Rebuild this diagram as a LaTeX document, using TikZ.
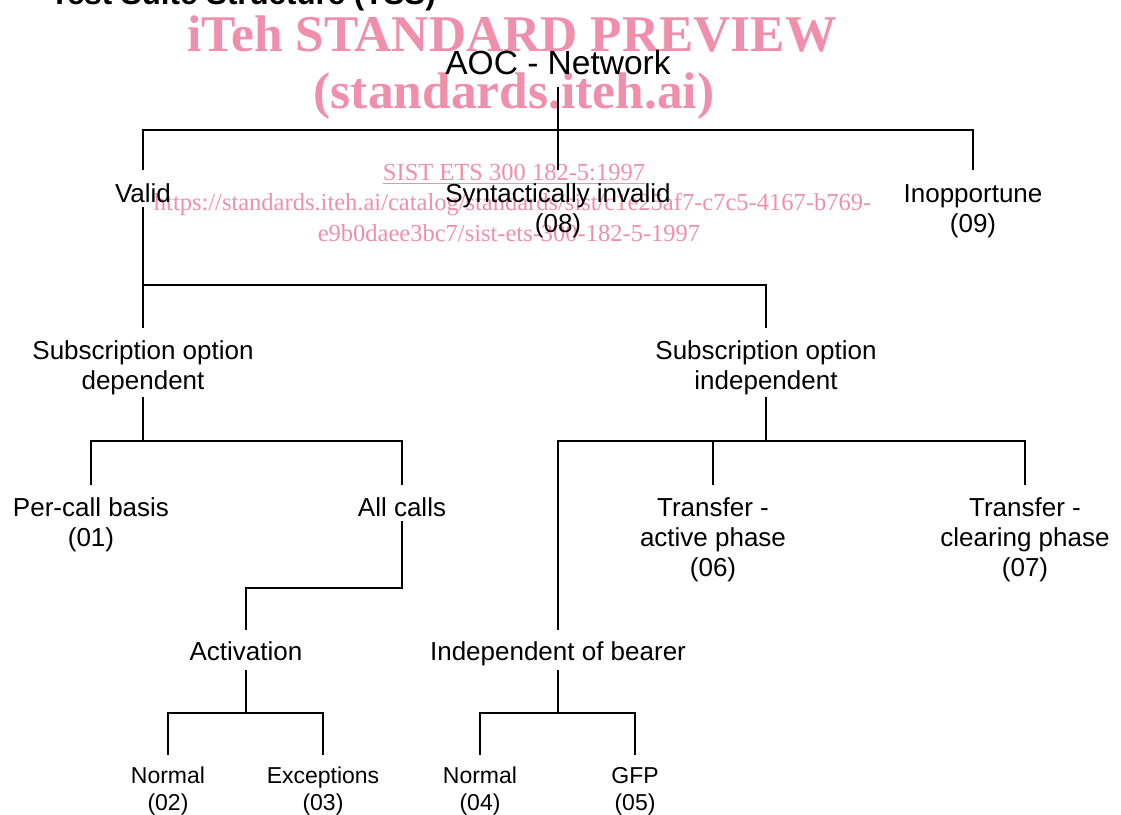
\documentclass[tikz,border=0pt]{standalone}
\usepackage{fontspec}
\setmainfont{Liberation Sans}
\newfontfamily\wmfont{Liberation Serif}
\definecolor{wmpink}{RGB}{239,143,171}
\begin{document}
\begin{tikzpicture}[x=1pt,y=-1pt,
  lab/.style={inner sep=0pt, align=center, font=\fontsize{26}{30}\selectfont},
  leaf/.style={inner sep=0pt, align=center, font=\fontsize{23}{27}\selectfont},
  top/.style={inner sep=0pt, align=center, font=\fontsize{33.5}{38.5}\selectfont},
  conn/.style={draw=black, line width=1.7pt},
  wmbig/.style={inner sep=0pt, anchor=base, text=wmpink, font=\wmfont\bfseries\fontsize{51.5}{58}\selectfont},
  wmsmall/.style={inner sep=0pt, anchor=base, text=wmpink, font=\wmfont\fontsize{24.5}{30}\selectfont}]
\path[use as bounding box] (0,0) rectangle (1121,814);
\clip (0,0) rectangle (1121,814);
\fill[white] (0,0) rectangle (1121,814);

% title (cut off at the top)
\node[inner sep=0pt, anchor=base west, font=\bfseries\fontsize{31.3}{36}\selectfont] (title) at (50,4) {Test Suite Structure (TSS)};

% watermark
\node[wmbig] (wm1) at (512,51) {iTeh STANDARD PREVIEW};
\node[wmbig] (wm2) at (514,108) {(standards.iteh.ai)};
\node[wmsmall] (sist) at (514,180.5) {SIST ETS 300 182-5:1997};
\draw[wmpink, line width=1.2pt] ([yshift=-2.6pt]sist.base west) -- ([yshift=-2.6pt]sist.base east);
\node[wmsmall] (url1) at (512.5,210) {https://standards.iteh.ai/catalog/standards/sist/c1e25af7-c7c5-4167-b769-};
\node[wmsmall] (url2) at (509,241) {e9b0daee3bc7/sist-ets-300-182-5-1997};

% tree nodes
\node[top] (aoc) at (558,66.3) {\strut AOC - Network};
\node[lab] (valid) at (143,196.3) {\strut Valid};
\node[lab] (synt) at (558,211.3) {\strut Syntactically invalid\\(08)\strut};
\node[lab] (inop) at (973,211.3) {\strut Inopportune\\(09)\strut};
\node[lab] (subdep) at (143,368.3) {\strut Subscription option\\dependent\strut};
\node[lab] (subind) at (766,368.3) {\strut Subscription option\\independent\strut};
\node[lab] (percall) at (91,525.3) {\strut Per-call basis\\(01)\strut};
\node[lab] (allcalls) at (402,510.3) {\strut All calls};
\node[lab] (tact) at (713,540.3) {\strut Transfer -\\active phase\\(06)\strut};
\node[lab] (tclr) at (1025,540.3) {\strut Transfer -\\clearing phase\\(07)\strut};
\node[lab] (activ) at (246,654.3) {\strut Activation};
\node[lab] (indep) at (558,654.3) {\strut Independent of bearer};
\node[leaf] (n02) at (168,791.3) {\strut Normal\\(02)\strut};
\node[leaf] (e03) at (323,791.3) {\strut Exceptions\\(03)\strut};
\node[leaf] (n04) at (480,791.3) {\strut Normal\\(04)\strut};
\node[leaf] (g05) at (635,791.3) {\strut GFP\\(05)\strut};

% connectors
\draw[conn] (aoc |- 0,87) -- (aoc |- 0,130);
\draw[conn] (valid |- 0,170) |- (inop |- 0,130) -- (inop |- 0,170);
\draw[conn] (synt |- 0,130) -- (synt |- 0,170);

\draw[conn] (valid |- 0,207) -- (subdep |- 0,328);
\draw[conn] (subdep |- 0,285) -| (subind |- 0,328);

\draw[conn] (subdep |- 0,397) -- (subdep |- 0,441);
\draw[conn] (percall |- 0,485) |- (allcalls |- 0,441) -- (allcalls |- 0,485);
\draw[conn] (allcalls |- 0,521) |- (activ |- 0,588) -- (activ |- 0,630);
\draw[conn] (activ |- 0,670) -- (activ |- 0,713);
\draw[conn] (n02 |- 0,755) |- (e03 |- 0,713) -- (e03 |- 0,755);

\draw[conn] (subind |- 0,397) -- (subind |- 0,441);
\draw[conn] (indep |- 0,630) |- (tclr |- 0,441) -- (tclr |- 0,485);
\draw[conn] (tact |- 0,441) -- (tact |- 0,485);
\draw[conn] (indep |- 0,670) -- (indep |- 0,713);
\draw[conn] (n04 |- 0,755) |- (g05 |- 0,713) -- (g05 |- 0,755);
\end{tikzpicture}
\end{document}
